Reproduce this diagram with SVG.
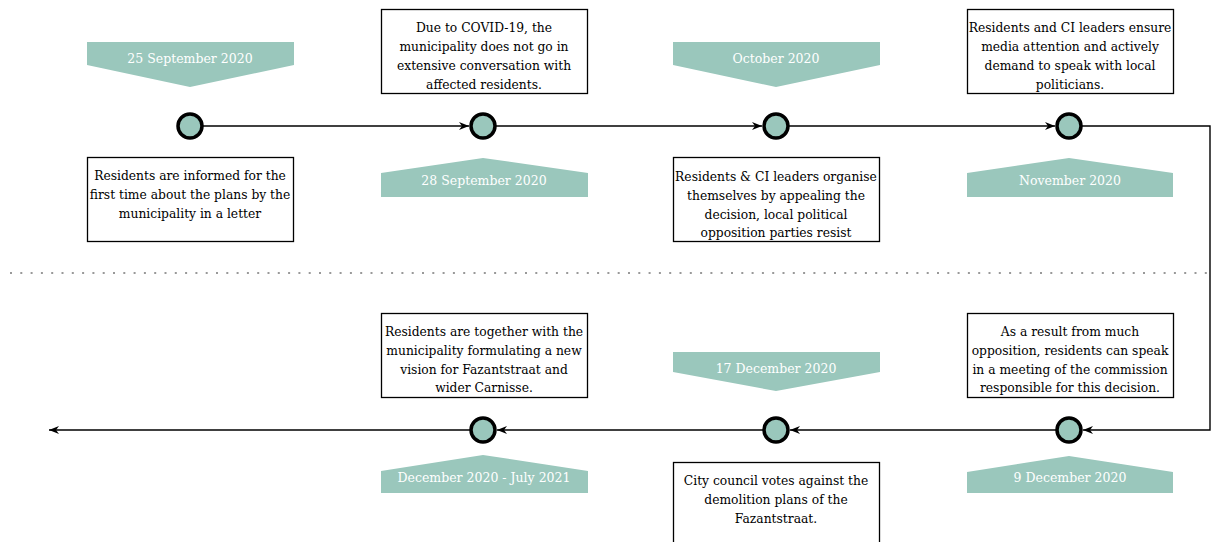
<svg xmlns="http://www.w3.org/2000/svg" width="1212" height="542" viewBox="0 0 1212 542">
<style>
.banner{fill:#9ac7bc;stroke:none}
.btxt{font-family:"DejaVu Serif",serif;font-size:12.5px;fill:#ffffff;text-anchor:middle}
.box{fill:#ffffff;stroke:#000000;stroke-width:1.3}
.txt{font-family:"DejaVu Serif",serif;font-size:12.3px;fill:#000000;text-anchor:middle}
.dot{fill:#9ac7bc;stroke:#000000;stroke-width:3.5}
.conn{fill:none;stroke:#000000;stroke-width:1.4}
</style>
<defs>
<marker id="arr" markerUnits="userSpaceOnUse" markerWidth="11" markerHeight="10" refX="10" refY="5" orient="auto">
<path d="M0,1 L10,5 L0,9 L3,5 z" fill="#000000"/>
</marker>
</defs>
<line x1="10" y1="273" x2="1212" y2="273" stroke="#999999" stroke-width="2" stroke-dasharray="2,8.3"/>
<g id="connectors">
<path class="conn" d="M202,126 L469,126" marker-end="url(#arr)"/>
<path class="conn" d="M495,126 L762,126" marker-end="url(#arr)"/>
<path class="conn" d="M788,126 L1055,126" marker-end="url(#arr)"/>
<path class="conn" d="M1081,126 L1210,126 L1210,430 L1083,430" marker-end="url(#arr)"/>
<path class="conn" d="M1057,430 L790,430" marker-end="url(#arr)"/>
<path class="conn" d="M764,430 L497,430" marker-end="url(#arr)"/>
<path class="conn" d="M471,430 L49,430" marker-end="url(#arr)"/>
</g>
<g id="n1">
<polygon class="banner" points="87,42 294,42 294,65 190,87 87,65"/>
<text class="btxt" x="190" y="63">25 September 2020</text>
<circle class="dot" cx="190" cy="126" r="12"/>
<rect class="box" x="87.5" y="157.5" width="206" height="84"/>
<text class="txt" x="190" y="180">Residents are informed for the</text>
<text class="txt" x="190" y="199">first time about the plans by the</text>
<text class="txt" x="190" y="218">municipality in a letter</text>
</g>
<g id="n2">
<rect class="box" x="381.5" y="9.5" width="206" height="84"/>
<text class="txt" x="484" y="32">Due to COVID-19, the</text>
<text class="txt" x="484" y="51">municipality does not go in</text>
<text class="txt" x="484" y="70">extensive conversation with</text>
<text class="txt" x="484" y="89">affected residents.</text>
<circle class="dot" cx="483" cy="126" r="12"/>
<polygon class="banner" points="381,173 483,158 588,173 588,197 381,197"/>
<text class="btxt" x="484" y="185">28 September 2020</text>
</g>
<g id="n3">
<polygon class="banner" points="673,42 880,42 880,65 776,87 673,65"/>
<text class="btxt" x="776" y="63">October 2020</text>
<circle class="dot" cx="776" cy="126" r="12"/>
<rect class="box" x="673.5" y="157.5" width="206" height="84"/>
<text class="txt" x="776" y="181">Residents &amp; CI leaders organise</text>
<text class="txt" x="776" y="200">themselves by appealing the</text>
<text class="txt" x="776" y="219">decision, local political</text>
<text class="txt" x="776" y="237">opposition parties resist</text>
</g>
<g id="n4">
<rect class="box" x="967.5" y="9.5" width="206" height="84"/>
<text class="txt" x="1070" y="32">Residents and CI leaders ensure</text>
<text class="txt" x="1070" y="51">media attention and actively</text>
<text class="txt" x="1070" y="70">demand to speak with local</text>
<text class="txt" x="1070" y="89">politicians.</text>
<circle class="dot" cx="1069" cy="126" r="12"/>
<polygon class="banner" points="967,173 1069,158 1173,173 1173,197 967,197"/>
<text class="btxt" x="1070" y="185">November 2020</text>
</g>
<g id="n5">
<rect class="box" x="967.5" y="313.5" width="206" height="84"/>
<text class="txt" x="1070" y="336">As a result from much</text>
<text class="txt" x="1070" y="355">opposition, residents can speak</text>
<text class="txt" x="1070" y="374">in a meeting of the commission</text>
<text class="txt" x="1070" y="392">responsible for this decision.</text>
<circle class="dot" cx="1069" cy="430" r="12"/>
<polygon class="banner" points="967,472 1069,456 1173,472 1173,493 967,493"/>
<text class="btxt" x="1070" y="482">9 December 2020</text>
</g>
<g id="n6">
<polygon class="banner" points="673,352 880,352 880,372 776,391 673,372"/>
<text class="btxt" x="776" y="373">17 December 2020</text>
<circle class="dot" cx="776" cy="430" r="12"/>
<rect class="box" x="673.5" y="462.5" width="206" height="84"/>
<text class="txt" x="776" y="485">City council votes against the</text>
<text class="txt" x="776" y="504">demolition plans of the</text>
<text class="txt" x="776" y="523">Fazantstraat.</text>
</g>
<g id="n7">
<rect class="box" x="381.5" y="313.5" width="206" height="84"/>
<text class="txt" x="484" y="336">Residents are together with the</text>
<text class="txt" x="484" y="355">municipality formulating a new</text>
<text class="txt" x="484" y="374">vision for Fazantstraat and</text>
<text class="txt" x="484" y="392">wider Carnisse.</text>
<circle class="dot" cx="483" cy="430" r="12"/>
<polygon class="banner" points="381,471 483,455 588,471 588,493 381,493"/>
<text class="btxt" x="484" y="482">December 2020 - July 2021</text>
</g>
</svg>
